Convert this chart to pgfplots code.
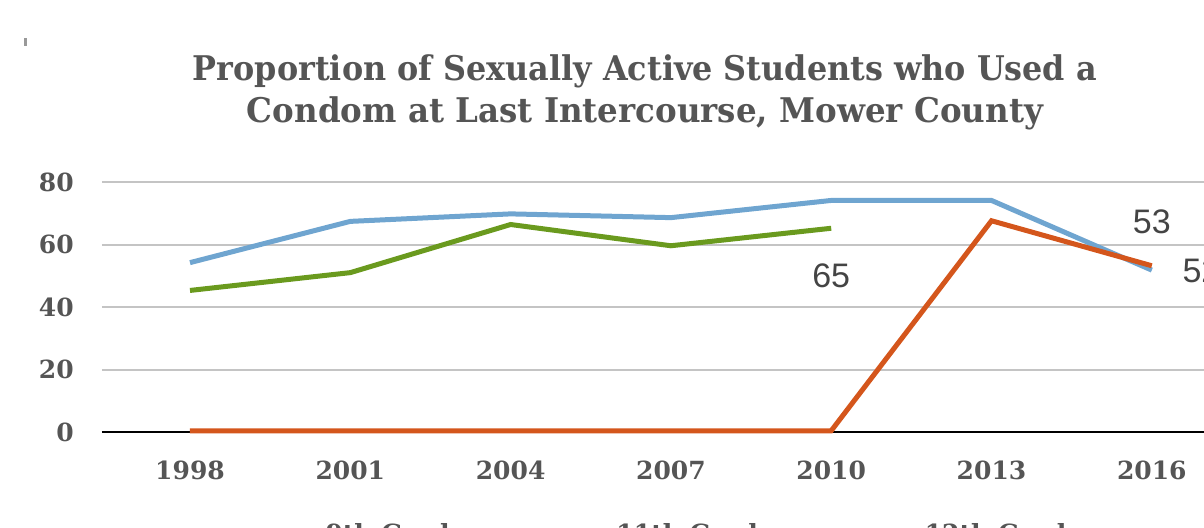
\documentclass[border=0pt]{standalone}
\usepackage{pgfplots}
\pgfplotsset{compat=1.18}
\usepackage{fontspec}
\setmainfont{DejaVu Serif}
\newfontfamily\labelfont{Liberation Sans}
\definecolor{cblue}{HTML}{6FA5D0}
\definecolor{cgreen}{HTML}{6A9A1E}
\definecolor{corange}{HTML}{D4561C}
\definecolor{gridgray}{HTML}{C4C4C4}
\definecolor{tickgray}{HTML}{555555}
\definecolor{titlegray}{HTML}{555555}
\definecolor{labgray}{HTML}{444444}
\begin{document}
\begin{tikzpicture}
\begin{axis}[
  anchor=origin, at={(0pt,0pt)},
  x=80.15pt, y=1.5625pt,
  xmin=-0.55, xmax=6.4, ymin=0, ymax=80,
  axis line style={draw=none},
  major tick length=0pt,
  ytick={0,20,40,60,80},
  xtick={0,1,2,3,4,5,6},
  xticklabels={1998,2001,2004,2007,2010,2013,2016},
  /pgf/number format/assume math mode=true,
  ymajorgrids,
  grid style={color=gridgray, line width=1pt},
  extra y ticks={0},
  extra y tick labels={},
  extra y tick style={grid style={black, line width=1.2pt}},
  tick label style={font=\bfseries\fontsize{12.5}{15}\selectfont, color=tickgray},
  yticklabel style={xshift=-10.5pt},
  xticklabel style={yshift=-11pt},
  clip=false,
  legend columns=3,
  legend style={draw=none, fill=none, at={(axis cs:0.5,-26.6)}, anchor=north west,
    font=\bfseries\fontsize{12.5}{15}\selectfont, text=tickgray,
    /tikz/every even column/.append style={column sep=49pt}},
  legend image code/.code={\draw[#1, line width=2.5pt] (0pt,0pt) -- (20pt,0pt);},
]
\addplot[cblue, line width=2.5pt] coordinates {(0,54.2) (1,67.4) (2,69.8) (3,68.6) (4,74.1) (5,74.1) (6,51.8)};
\addlegendentry{9th Grade}
\addplot[cgreen, line width=2.5pt] coordinates {(0,45.3) (1,51.0) (2,66.4) (3,59.6) (4,65.2)};
\addlegendentry{11th Grade}
\addplot[corange, line width=2.5pt] coordinates {(0,0.4) (1,0.4) (2,0.4) (3,0.4) (4,0.4) (5,67.6) (6,53.2)};
\addlegendentry{12th Grade}
\node[font=\labelfont\fontsize{17}{20}\selectfont, text=labgray] at (axis cs:4,50.1) {65};
\node[font=\labelfont\fontsize{17}{20}\selectfont, text=labgray] at (axis cs:6,67.3) {53};
\node[font=\labelfont\fontsize{17}{20}\selectfont, text=labgray] at (axis cs:6.31,51.5) {52};
\end{axis}
\node[anchor=base, font=\bfseries\fontsize{17}{20}\selectfont, text=titlegray] at (227.5pt,176pt) {\resizebox{452pt}{\height}{Proportion of Sexually Active Students who Used a}};
\node[anchor=base, font=\bfseries\fontsize{17}{20}\selectfont, text=titlegray] at (227.5pt,155pt) {\resizebox{398pt}{\height}{Condom at Last Intercourse, Mower County}};
\fill[tickgray!60] (-83pt,197pt) rectangle (-81.5pt,193pt);
\pgfresetboundingbox
\path[use as bounding box] (-95pt,-47.5pt) rectangle (507pt,216pt);
\end{tikzpicture}
\end{document}
